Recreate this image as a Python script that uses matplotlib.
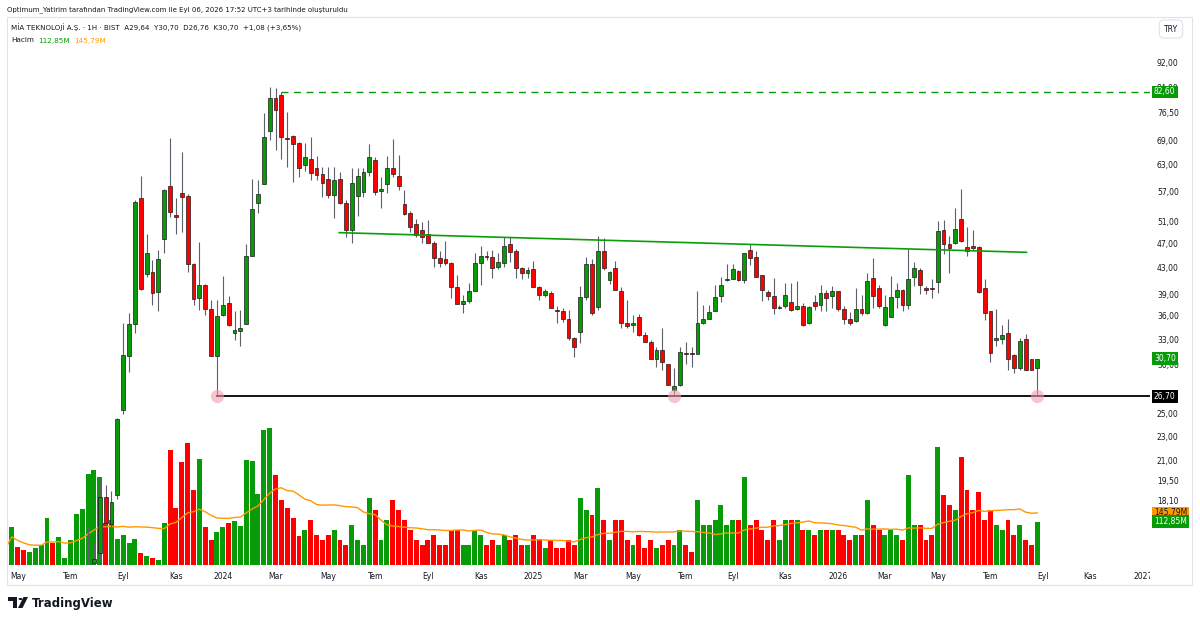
import matplotlib
matplotlib.use("Agg")
import matplotlib.pyplot as plt
import matplotlib.dates as mdates
import matplotlib.transforms as mtransforms
from matplotlib.patches import Rectangle, Circle, Polygon
from matplotlib.ticker import FixedLocator, FixedFormatter, NullLocator
import numpy as np
import pandas as pd

plt.rcParams['font.family'] = ['DejaVu Sans']

# weekly candles, first bar = week of 2023-04-17
start = '2023-04-17'
opens = [10.6, 11.0, 11.8, 11.4, 11.1, 11.3, 11.6, 11.9, 12.9, 12.5,
         13.0, 13.1, 13.4, 13.7, 13.9, 14.35, 14.9, 18.4, 16.6, 18.5,
         25.4, 31.0, 34.9, 55.7, 42.1, 42.4, 39.3, 47.9, 58.3, 52.3,
         56.8, 56.1, 43.6, 38.4, 40.3, 36.9, 31.0, 36.1, 37.8, 33.8,
         34.0, 34.9, 45.0, 54.6, 58.7, 71.4, 80.8, 81.8, 69.6, 70.1,
         68.4, 63.0, 64.4, 62.3, 60.9, 59.8, 56.3, 59.8, 54.7, 49.5,
         56.1, 57.0, 61.4, 64.2, 57.1, 58.7, 62.4, 60.5, 54.4, 52.8,
         50.6, 49.4, 48.7, 47.2, 44.6, 44.4, 43.8, 40.1, 37.6, 38.0,
         39.5, 43.8, 45.0, 44.8, 43.2, 43.8, 46.9, 45.7, 43.0, 42.2,
         42.8, 40.0, 38.9, 39.2, 36.8, 36.6, 35.5, 33.2, 33.9, 38.6,
         43.6, 37.2, 45.7, 41.1, 43.0, 39.5, 35.1, 34.8, 35.8, 33.5,
         32.7, 30.7, 31.7, 30.1, 27.3, 27.8, 31.4, 31.3, 31.2, 35.0,
         35.6, 36.6, 38.8, 41.1, 41.2, 42.5, 41.1, 46.0, 44.7, 41.8,
         39.3, 38.8, 37.1, 37.3, 37.9, 36.9, 37.3, 35.0, 37.9, 37.5,
         39.2, 38.7, 39.4, 36.9, 35.6, 35.3, 36.9, 36.3, 41.4, 39.9,
         34.8, 35.8, 38.6, 39.6, 37.4, 41.6, 42.6, 39.9, 39.9, 40.8,
         49.4, 47.0, 47.1, 51.6, 46.5, 46.6, 46.4, 39.9, 36.6, 32.9,
         33.0, 33.8, 31.1, 29.6, 33.0, 30.6, 29.64]
highs = [11.2, 12.0, 12.0, 11.6, 11.5, 11.7, 12.0, 13.2, 13.0, 13.1,
         13.2, 13.6, 13.9, 14.1, 16.5, 15.4, 19.5, 19.2, 18.8, 24.6,
         35.0, 36.4, 55.3, 60.5, 48.7, 44.3, 46.0, 57.6, 69.6, 55.7,
         66.1, 56.6, 43.8, 47.4, 40.5, 38.2, 38.2, 41.7, 38.8, 36.7,
         36.8, 46.9, 59.8, 59.6, 76.5, 84.0, 83.8, 82.6, 76.8, 70.4,
         68.6, 68.4, 70.0, 65.2, 62.5, 62.6, 62.5, 61.4, 55.4, 62.3,
         62.2, 62.3, 68.1, 65.0, 60.3, 65.2, 69.3, 65.4, 57.3, 53.1,
         51.5, 51.0, 51.4, 47.5, 45.7, 47.5, 43.9, 41.9, 38.9, 40.7,
         45.4, 46.6, 45.7, 46.0, 45.4, 48.3, 48.3, 46.1, 43.2, 43.2,
         44.1, 40.2, 39.8, 39.4, 37.3, 37.0, 36.8, 33.3, 40.2, 44.7,
         44.5, 48.4, 48.0, 42.5, 44.1, 40.0, 38.2, 36.1, 36.2, 33.9,
         32.9, 32.0, 34.4, 30.1, 29.6, 32.1, 32.7, 32.0, 39.4, 37.5,
         37.5, 40.4, 41.6, 43.6, 43.6, 42.7, 45.5, 47.0, 45.8, 41.8,
         39.6, 41.4, 37.5, 40.6, 40.6, 40.9, 37.8, 37.3, 38.9, 40.4,
         39.6, 40.2, 39.5, 37.3, 36.5, 39.9, 38.9, 42.2, 44.6, 40.3,
         38.9, 41.7, 40.6, 39.7, 46.1, 44.0, 43.0, 40.2, 41.3, 51.2,
         51.4, 48.4, 53.7, 57.6, 50.0, 49.5, 46.7, 41.2, 36.6, 36.9,
         34.8, 35.6, 31.2, 33.1, 33.6, 30.7, 30.70]
lows = [10.3, 10.8, 11.2, 10.9, 11.0, 11.2, 11.4, 11.8, 12.3, 12.4,
        12.9, 12.9, 13.2, 13.5, 13.7, 13.9, 14.6, 16.5, 16.2, 18.2,
        25.0, 29.2, 33.7, 39.6, 41.6, 37.5, 36.7, 45.4, 52.0, 48.8,
        49.2, 42.4, 37.5, 36.8, 36.1, 31.0, 26.7, 36.0, 34.6, 32.9,
        32.2, 34.9, 45.0, 52.7, 58.7, 69.1, 66.6, 64.4, 62.5, 59.2,
        60.2, 61.5, 59.6, 59.6, 55.9, 55.7, 51.8, 54.5, 48.3, 47.2,
        52.1, 56.0, 60.4, 56.4, 53.6, 56.7, 60.3, 57.4, 52.4, 49.2,
        48.2, 47.2, 47.2, 43.2, 43.2, 43.4, 38.4, 37.6, 36.3, 37.7,
        39.4, 40.3, 44.3, 41.4, 42.8, 43.2, 44.0, 41.4, 41.3, 41.4,
        40.0, 38.2, 38.6, 37.0, 35.0, 35.2, 32.9, 30.9, 32.5, 38.1,
        36.1, 36.8, 42.7, 40.5, 39.6, 34.4, 34.4, 33.9, 33.4, 32.6,
        30.7, 29.8, 29.4, 27.8, 26.7, 27.7, 30.1, 29.8, 31.2, 34.9,
        35.6, 36.6, 37.9, 41.0, 41.2, 41.0, 40.7, 43.5, 41.6, 38.0,
        38.2, 36.2, 36.9, 37.1, 36.6, 36.8, 34.7, 34.9, 36.8, 36.7,
        36.6, 37.1, 36.7, 34.9, 34.8, 35.2, 36.1, 36.2, 37.0, 37.0,
        34.6, 35.8, 37.1, 36.7, 36.9, 40.2, 39.0, 39.0, 38.4, 39.2,
        45.2, 42.2, 47.0, 47.4, 44.9, 46.0, 39.2, 35.4, 30.3, 32.2,
        32.4, 29.4, 29.1, 29.4, 29.4, 29.4, 26.76]
closes = [11.0, 11.8, 11.4, 11.1, 11.3, 11.6, 11.9, 12.9, 12.5, 13.0,
          13.1, 13.4, 13.7, 13.9, 14.1, 14.6, 18.4, 16.7, 18.0, 24.5,
          31.1, 34.9, 54.9, 39.8, 45.5, 39.1, 44.4, 57.4, 52.9, 51.9,
          55.9, 43.6, 38.3, 40.3, 36.9, 31.0, 35.9, 37.5, 34.8, 34.2,
          34.4, 45.0, 53.5, 56.6, 69.8, 80.8, 77.3, 69.8, 69.3, 68.1,
          62.3, 65.0, 61.2, 60.6, 59.0, 56.3, 59.6, 54.7, 49.5, 59.0,
          60.4, 61.4, 64.8, 57.0, 57.6, 62.2, 61.0, 58.2, 52.5, 50.1,
          48.5, 48.3, 47.2, 44.6, 43.8, 43.8, 40.0, 37.6, 38.0, 39.4,
          43.8, 45.0, 44.7, 43.0, 44.0, 46.6, 45.6, 43.0, 42.2, 42.6,
          40.0, 38.9, 39.5, 37.0, 36.6, 35.5, 33.1, 32.1, 38.6, 43.6,
          36.4, 45.7, 43.0, 42.3, 39.6, 35.0, 34.7, 35.1, 33.5, 32.7,
          30.7, 31.7, 30.3, 27.8, 27.7, 31.5, 31.2, 31.2, 35.0, 35.5,
          36.5, 38.6, 40.3, 41.3, 42.8, 41.1, 45.4, 44.6, 41.6, 39.6,
          38.7, 37.1, 37.2, 38.9, 36.8, 37.3, 34.8, 37.2, 37.3, 39.1,
          38.4, 39.4, 36.9, 35.6, 35.0, 36.9, 36.3, 41.0, 38.8, 37.3,
          37.2, 38.6, 39.6, 37.4, 41.3, 43.0, 40.3, 39.6, 39.7, 49.3,
          46.9, 46.2, 49.6, 47.5, 45.7, 46.3, 39.3, 36.3, 31.3, 33.1,
          33.5, 30.6, 29.6, 32.8, 29.4, 29.4, 30.70]
# weekly volume, millions
volume_m = [46, 100, 46, 38, 33, 45, 51, 121, 57, 72,
            17, 66, 133, 145, 237, 248, 230, 109, 116, 68,
            77, 57, 67, 31, 23, 17, 14, 110, 298, 149,
            267, 317, 194, 276, 98, 66, 87, 98, 110, 114,
            102, 274, 271, 185, 352, 355, 235, 168, 149, 121,
            76, 90, 116, 77, 64, 77, 90, 64, 51, 103,
            64, 51, 175, 142, 64, 116, 168, 142, 116, 90,
            64, 51, 64, 77, 51, 51, 90, 90, 51, 51,
            90, 77, 51, 64, 51, 77, 64, 77, 51, 51,
            77, 64, 43, 64, 43, 43, 64, 51, 175, 142,
            129, 199, 116, 64, 116, 116, 64, 51, 77, 43,
            64, 43, 51, 64, 51, 90, 51, 33, 168, 103,
            103, 116, 155, 103, 116, 116, 228, 103, 116, 90,
            64, 116, 64, 116, 116, 116, 90, 90, 77, 90,
            90, 90, 90, 77, 64, 77, 77, 168, 103, 90,
            77, 90, 77, 64, 233, 103, 103, 64, 77, 306,
            181, 155, 142, 280, 194, 142, 189, 116, 142, 103,
            90, 116, 77, 103, 64, 51, 112.85]

month_starts = ['2023-05-01', '2023-07-01', '2023-09-01', '2023-11-01', '2024-01-01',
                '2024-03-01', '2024-05-01', '2024-07-01', '2024-09-01', '2024-11-01',
                '2025-01-01', '2025-03-01', '2025-05-01', '2025-07-01', '2025-09-01',
                '2025-11-01', '2026-01-01', '2026-03-01', '2026-05-01', '2026-07-01',
                '2026-09-01', '2026-11-01', '2027-01-01']
month_labels = ['May', 'Tem', 'Eyl', 'Kas', '2024', 'Mar', 'May', 'Tem', 'Eyl', 'Kas',
                '2025', 'Mar', 'May', 'Tem', 'Eyl', 'Kas', '2026', 'Mar', 'May', 'Tem',
                'Eyl', 'Kas', '2027']
price_ticks = [92, 84, 76.5, 69, 63, 57, 51, 47, 43, 39, 36, 33, 30, 27, 25, 23, 21, 19.5, 18.1]

support_level = 26.70
support_from = '2023-12-25'
touch_dates = ['2023-12-25', '2025-06-23', '2026-08-31']
top_level = 82.60
top_from = '2024-03-11'
trend_dates = ['2024-05-19', '2026-08-18']
trend_prices = [49.0, 45.55]

GREEN = '#089b08'
RED = '#ff0000'
ORANGE = '#ff9800'
TXT = '#131722'

W, H = 1200, 622
def fx(px):
    return px / W
def fy(py):
    return 1 - py / H

o = np.array(opens); h = np.array(highs); l = np.array(lows); c = np.array(closes)
vol = np.array(volume_m)
dates = pd.date_range(start, periods=len(opens), freq='7D')
x = mdates.date2num(dates)
up = c >= o
cols = np.where(up, GREEN, RED)
vol_ma = pd.Series(vol).rolling(20, min_periods=1).mean()

grid = pd.date_range(start, periods=200, freq='7D')
tick_x = [mdates.date2num(grid[grid >= pd.Timestamp(m)][0]) for m in month_starts]

x0 = mdates.date2num(pd.Timestamp(start)) + 1.2
x1 = mdates.date2num(pd.Timestamp(start)) + 1366.6

fig = plt.figure(figsize=(12, 6.22), dpi=100)
rect = [fx(7), fy(565), fx(1150) - fx(7), fy(17) - fy(565)]
axv = fig.add_axes(rect)
ax = fig.add_axes(rect, sharex=axv)
ax.patch.set_visible(False)

# volume
axv.bar(x, vol, width=5.9, color=cols, linewidth=0)
axv.plot(x, vol_ma, color=ORANGE, lw=1.0)
axv.set_ylim(0, 548 * 2.6)
axv.yaxis.set_major_locator(NullLocator())
for s in axv.spines.values():
    s.set_visible(False)
axv.tick_params(axis='x', length=0, labelbottom=False)

# candles
ax.vlines(x, l, h, color='#5d606b', lw=0.8, zorder=2)
ax.bar(x, np.maximum(np.abs(c - o), 0.05), bottom=np.minimum(o, c), width=4.6,
       color=cols, edgecolor='#1a1a1a', linewidth=0.5, zorder=3)

ax.set_yscale('log')
ax.set_ylim(14.27, 109.1)
ax.set_xlim(x0, x1)

# drawings
xs = mdates.date2num(pd.Timestamp(support_from))
ax.plot([xs, x1], [support_level, support_level], color='black', lw=1.3, zorder=4)
xt = mdates.date2num(pd.Timestamp(top_from))
ax.plot([xt, x1], [top_level, top_level], color=GREEN, lw=1.0, dashes=(5, 4), zorder=4)
ax.plot(mdates.date2num(pd.to_datetime(trend_dates)), trend_prices, color='#0a9f0a', lw=1.2, zorder=4)
ax.plot(mdates.date2num(pd.to_datetime(touch_dates)), [support_level] * len(touch_dates), 'o',
        ms=9.5, color='#f29bb0', alpha=0.6, mec='none', zorder=5)

# axes styling
for s in ax.spines.values():
    s.set_visible(False)
ax.yaxis.tick_right()
ax.yaxis.set_major_locator(FixedLocator(price_ticks))
ax.yaxis.set_major_formatter(FixedFormatter([f'{v:.2f}'.replace('.', ',') for v in price_ticks]))
ax.yaxis.set_minor_locator(NullLocator())
ax.tick_params(axis='y', length=0, pad=5, labelsize=5.5, labelcolor=TXT)
ax.xaxis.set_major_locator(FixedLocator(tick_x))
ax.xaxis.set_major_formatter(FixedFormatter(month_labels))
ax.tick_params(axis='x', length=0, pad=5, labelsize=5.5, labelcolor=TXT)

# price scale labels
tr = mtransforms.blended_transform_factory(ax.transAxes, ax.transData)
trv = mtransforms.blended_transform_factory(ax.transAxes, axv.transData)
lx = 1 + 4 / 1143
def tag(trans, yv, s, fc, tc):
    ax.text(lx, yv, s, transform=trans, ha='left', va='center', fontsize=5.5, color=tc,
            bbox=dict(boxstyle='square,pad=0.25', fc=fc, ec='none'), zorder=6, clip_on=False)
tag(tr, top_level, '82,60', GREEN, 'white')
tag(tr, closes[-1], '30,70', GREEN, 'white')
tag(tr, support_level, '26,70', 'black', 'white')
tag(trv, vol_ma.iloc[-1], '145,79M', ORANGE, TXT)
tag(trv, vol[-1], '112,85M', GREEN, 'white')

# cover time labels that run into the price scale
fig.add_artist(Rectangle((fx(1150), fy(583)), fx(1191) - fx(1150), fy(566) - fy(583),
                         transform=fig.transFigure, fc='white', ec='none', zorder=10))
# chart frame
fig.add_artist(Rectangle((fx(7), fy(585)), fx(1192) - fx(7), fy(17) - fy(585),
                         transform=fig.transFigure, fill=False, ec='#e0e3eb', lw=0.8, zorder=11))

fig.text(fx(1171), fy(29), 'TRY', ha='center', va='center', fontsize=5.5, color=TXT,
         bbox=dict(boxstyle='round,pad=0.6', fc='white', ec='#e0e3eb', lw=0.8), zorder=12)

# header
fig.text(fx(7), fy(9.5), 'Optimum_Yatirim tarafından TradingView.com ile Eyl 06, 2026 17:52 UTC+3 tarihinde oluşturuldu',
         ha='left', va='center', fontsize=5.05, color=TXT)
fig.text(fx(11), fy(27.5), 'MİA TEKNOLOJİ A.Ş. · 1H · BIST  A29,64  Y30,70  D26,76  K30,70  +1,08 (+3,65%)',
         ha='left', va='center', fontsize=5.1, color=TXT)
fig.text(fx(11), fy(40.5), 'Hacim', ha='left', va='center', fontsize=5.2, color=TXT)
fig.text(fx(38), fy(40.5), '112,85M', ha='left', va='center', fontsize=5.2, color=GREEN)
fig.text(fx(74), fy(40.5), '145,79M', ha='left', va='center', fontsize=5.2, color=ORANGE)

# TradingView logo
logo = '#131722'
fig.add_artist(Polygon([(fx(8), fy(597)), (fx(17), fy(597)), (fx(17), fy(608)), (fx(13), fy(608)),
                        (fx(13), fy(601)), (fx(8), fy(601))], closed=True, transform=fig.transFigure,
                       fc=logo, ec='none'))
fig.add_artist(Circle((fx(20.5), fy(599)), 2.0 / W, transform=fig.transFigure, fc=logo, ec='none'))
fig.add_artist(Polygon([(fx(18), fy(608)), (fx(22.5), fy(608)), (fx(28), fy(597)), (fx(23.5), fy(597))],
                       closed=True, transform=fig.transFigure, fc=logo, ec='none'))
fig.text(fx(32), fy(603), 'TradingView', ha='left', va='center', fontsize=8.5, fontweight='bold', color=logo)

fig.savefig('out.png', dpi=100, facecolor='white')
